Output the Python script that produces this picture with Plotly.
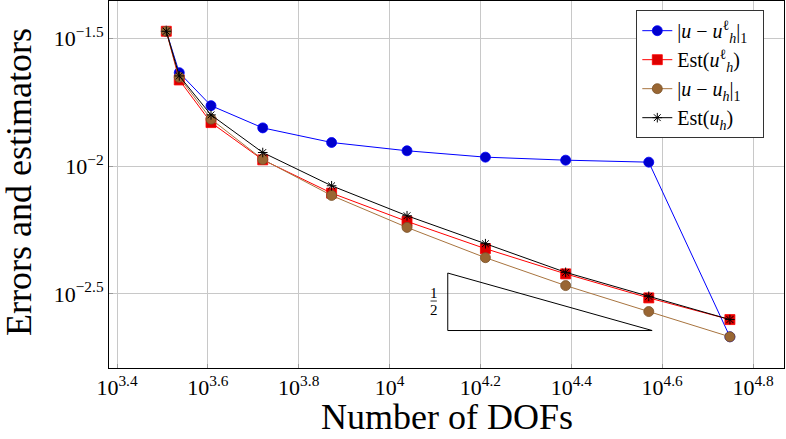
import numpy as np
import plotly.graph_objects as go

# Data
dofs = [3225, 3444, 4045, 5258, 7454, 10925, 16255, 24410, 37200, 56120]
err_lift = [0.03369, 0.02320, 0.01724, 0.01411, 0.01237, 0.01148, 0.01084, 0.01055, 0.01036, 0.002148]
est_lift = [0.03369, 0.02173, 0.01480, 0.01058, 0.007838, 0.006076, 0.004753, 0.003787, 0.003050, 0.002509]
err_h = [0.03369, 0.02227, 0.01527, 0.01062, 0.007675, 0.005756, 0.004382, 0.003408, 0.002697, 0.002148]
est_h = [0.03369, 0.02253, 0.01586, 0.01130, 0.008375, 0.006394, 0.004970, 0.003840, 0.003094, 0.002509]

# Slope triangle (rate 1/2)
tri_x = [13430, 37840]
tri_y_bottom = 0.002273
tri_slope = 0.5

x_tick_exp = [3.4, 3.6, 3.8, 4.0, 4.2, 4.4, 4.6, 4.8]
y_tick_exp = [-1.5, -2.0, -2.5]

names = [
    "|<i>u</i> − <i>u</i><sup>ℓ</sup><sub><i>h</i></sub>|<sub>1</sub>&nbsp;&nbsp;",
    "Est(<i>u</i><sup>ℓ</sup><sub><i>h</i></sub>)",
    "|<i>u</i> − <i>u</i><sub><i>h</i></sub>|<sub>1</sub>",
    "Est(<i>u</i><sub><i>h</i></sub>)",
]

FONT = "Liberation Serif"
W, H = 786, 439
ML, MR, MT, MB = 109, 2, 1, 71
PW, PH = W - ML - MR, H - MT - MB

fig = go.Figure()
fig.add_trace(go.Scatter(x=dofs, y=err_lift, name=names[0], mode="lines+markers",
                         line=dict(color="#0000ff", width=1),
                         marker=dict(symbol="circle", size=10, color="#0000cc",
                                     line=dict(color="#0000ff", width=0.8))))
fig.add_trace(go.Scatter(x=dofs, y=est_lift, name=names[1], mode="lines+markers",
                         line=dict(color="#ff0000", width=1),
                         marker=dict(symbol="square", size=10, color="#dd0000",
                                     line=dict(color="#ff0000", width=0.8))))
fig.add_trace(go.Scatter(x=dofs, y=err_h, name=names[2], mode="lines+markers",
                         line=dict(color="#a8743f", width=1),
                         marker=dict(symbol="circle", size=10, color="#996633",
                                     line=dict(color="#7a5228", width=0.8))))
fig.add_trace(go.Scatter(x=dofs, y=est_h, name=names[3], mode="lines+markers",
                         line=dict(color="#000000", width=1),
                         marker=dict(symbol="asterisk-open", size=8, color="#000000",
                                     line=dict(color="#000000", width=1))))

# slope triangle
y_top = tri_y_bottom * (tri_x[1] / tri_x[0]) ** tri_slope
fig.add_trace(go.Scatter(x=[tri_x[0], tri_x[0], tri_x[1], tri_x[0]],
                         y=[y_top, tri_y_bottom, tri_y_bottom, y_top],
                         mode="lines", line=dict(color="#000000", width=1),
                         showlegend=False, hoverinfo="skip"))
# fraction bar for 1/2 label
lx0 = np.log10(tri_x[0])
ly_mid = (np.log10(y_top) + np.log10(tri_y_bottom)) / 2
fig.add_trace(go.Scatter(x=[10 ** (lx0 - 0.038), 10 ** (lx0 - 0.024)],
                         y=[10 ** (ly_mid + 0.003)] * 2,
                         mode="lines", line=dict(color="#000000", width=0.8),
                         showlegend=False, hoverinfo="skip"))
fig.add_annotation(x=lx0 - 0.031, y=ly_mid + 0.033, text="1", showarrow=False,
                   xref="x", yref="y", font=dict(family=FONT, size=15, color="black"))
fig.add_annotation(x=lx0 - 0.031, y=ly_mid - 0.034, text="2", showarrow=False,
                   xref="x", yref="y", font=dict(family=FONT, size=15, color="black"))

# axis titles as annotations for precise placement
fig.add_annotation(x=0.5, y=(H - MB - 417) / PH, xref="paper", yref="paper",
                   text="Number of DOFs", showarrow=False, xanchor="center", yanchor="middle",
                   borderpad=0, font=dict(family=FONT, size=36, color="black"))
fig.add_annotation(x=(19 - ML) / PW, y=(H - MB - 182) / PH, xref="paper", yref="paper",
                   text="Errors and estimators", showarrow=False, textangle=-90,
                   xanchor="center", yanchor="middle", borderpad=0,
                   font=dict(family=FONT, size=36, color="black"))

def sup_label(e):
    s = ("%g" % e).replace("-", "−")
    return "10<sup>%s</sup>" % s

fig.update_xaxes(type="log", range=[3.3824, 4.8682], automargin=False,
                 tickvals=[10 ** e for e in x_tick_exp],
                 ticktext=[sup_label(e) for e in x_tick_exp],
                 showgrid=True, gridcolor="#c8c8c8", gridwidth=1,
                 showline=True, linecolor="black", linewidth=1, mirror=True,
                 ticks="inside", ticklen=4, tickcolor="#999999",
                 zeroline=False,
                 tickfont=dict(family=FONT, size=22, color="black"))
fig.update_yaxes(type="log", range=[-2.790, -1.354], automargin=False,
                 tickvals=[10 ** e for e in y_tick_exp],
                 ticktext=[sup_label(e) for e in y_tick_exp],
                 showgrid=True, gridcolor="#c8c8c8", gridwidth=1,
                 showline=True, linecolor="black", linewidth=1, mirror=True,
                 ticks="inside", ticklen=4, tickcolor="#999999",
                 zeroline=False,
                 tickfont=dict(family=FONT, size=22, color="black"))

fig.update_layout(
    width=W, height=H,
    margin=dict(l=ML, r=MR, t=MT, b=MB),
    plot_bgcolor="white", paper_bgcolor="white",
    font=dict(family=FONT, color="black"),
    legend=dict(x=(764.3 - ML) / PW, y=0.975, xanchor="right", yanchor="top",
                bgcolor="white", bordercolor="#333333", borderwidth=1,
                font=dict(family=FONT, size=20, color="black"),
                tracegroupgap=0, itemwidth=30),
    showlegend=True,
)

fig.write_html("out.html")
